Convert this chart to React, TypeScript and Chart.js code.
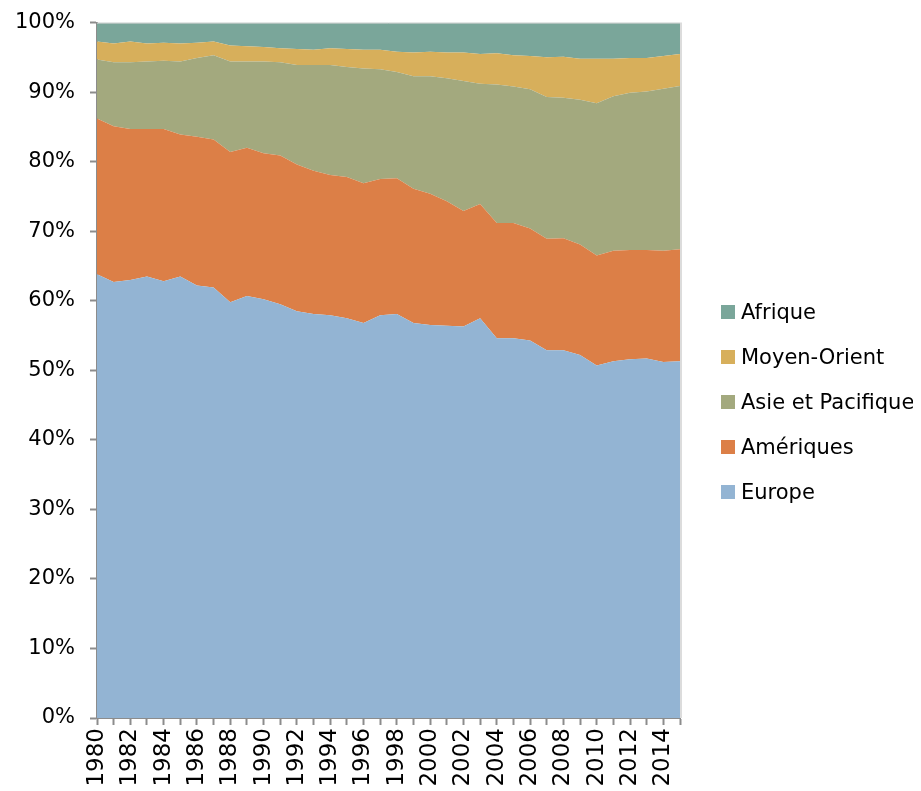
import React, { useEffect, useRef } from "react";
import { Chart, registerables } from "chart.js";

Chart.register(...registerables);

const years: string[] = [
  "1980","1981","1982","1983","1984","1985","1986","1987","1988","1989",
  "1990","1991","1992","1993","1994","1995","1996","1997","1998","1999",
  "2000","2001","2002","2003","2004","2005","2006","2007","2008","2009",
  "2010","2011","2012","2013","2014","2015",
];

const europe: number[] = [
  63.8, 62.7, 63.0, 63.5, 62.8, 63.5, 62.2, 61.9, 59.8, 60.7,
  60.2, 59.5, 58.5, 58.1, 57.9, 57.5, 56.8, 57.9, 58.1, 56.8,
  56.5, 56.4, 56.3, 57.5, 54.6, 54.6, 54.3, 52.9, 52.9, 52.2,
  50.7, 51.3, 51.6, 51.7, 51.2, 51.3,
];
const ameriques: number[] = [
  22.4, 22.4, 21.7, 21.2, 21.9, 20.4, 21.4, 21.3, 21.6, 21.3,
  21.0, 21.4, 21.1, 20.6, 20.2, 20.3, 20.1, 19.6, 19.5, 19.3,
  18.9, 17.9, 16.6, 16.4, 16.6, 16.6, 16.1, 16.0, 16.1, 15.9,
  15.8, 15.9, 15.7, 15.6, 16.0, 16.1,
];
const asiePacifique: number[] = [
  8.5, 9.2, 9.6, 9.7, 9.8, 10.5, 11.3, 12.1, 13.0, 12.4,
  13.2, 13.4, 14.3, 15.2, 15.8, 15.8, 16.5, 15.8, 15.3, 16.2,
  16.9, 17.7, 18.7, 17.3, 19.9, 19.6, 20.0, 20.4, 20.2, 20.8,
  21.9, 22.2, 22.6, 22.8, 23.3, 23.5,
];
const moyenOrient: number[] = [
  2.6, 2.7, 3.0, 2.6, 2.6, 2.6, 2.2, 2.0, 2.3, 2.2,
  2.1, 2.0, 2.3, 2.2, 2.4, 2.6, 2.7, 2.8, 2.9, 3.4,
  3.5, 3.7, 4.1, 4.3, 4.5, 4.5, 4.8, 5.7, 5.9, 5.9,
  6.4, 5.4, 5.0, 4.8, 4.7, 4.6,
];
const afrique: number[] = [
  2.7, 3.0, 2.7, 3.0, 2.9, 3.0, 2.9, 2.7, 3.3, 3.4,
  3.5, 3.7, 3.8, 3.9, 3.7, 3.8, 3.9, 3.9, 4.2, 4.3,
  4.2, 4.3, 4.3, 4.5, 4.4, 4.7, 4.8, 5.0, 4.9, 5.2,
  5.2, 5.2, 5.1, 5.1, 4.8, 4.5,
];

const yTickValues: number[] = [0, 10, 20, 30, 40, 50, 60, 70, 80, 90, 100];

const seriesNames: string[] = ["Europe", "Amériques", "Asie et Pacifique", "Moyen-Orient", "Afrique"];
const seriesColors: string[] = ["#93B4D3", "#DC7F47", "#A3A97E", "#D7AF5B", "#7AA69A"];
const seriesData: number[][] = [europe, ameriques, asiePacifique, moyenOrient, afrique];

const topBorder = {
  id: "topBorder",
  afterDraw(chart: any) {
    const { ctx, chartArea } = chart;
    ctx.save();
    ctx.strokeStyle = "#d4d4d4";
    ctx.lineWidth = 1;
    ctx.beginPath();
    ctx.moveTo(chartArea.left, chartArea.top + 0.5);
    ctx.lineTo(chartArea.right, chartArea.top + 0.5);
    ctx.stroke();
    ctx.strokeStyle = "#dcdcdc";
    ctx.lineWidth = 2;
    ctx.beginPath();
    ctx.moveTo(chartArea.right + 1, chartArea.top);
    ctx.lineTo(chartArea.right + 1, chartArea.bottom);
    ctx.stroke();
    ctx.restore();
  },
};

export default function App() {
  const ref = useRef<HTMLCanvasElement | null>(null);

  useEffect(() => {
    if (!ref.current) return;
    const chart = new Chart(ref.current, {
      type: "line",
      data: {
        labels: years,
        datasets: seriesData.map((d, i) => ({
          label: seriesNames[i],
          data: d,
          backgroundColor: seriesColors[i],
          borderColor: seriesColors[i],
          borderWidth: 0,
          pointRadius: 0,
          fill: i === 0 ? "origin" : "-1",
          tension: 0,
        })),
      },
      options: {
        animation: false,
        responsive: false,
        layout: { padding: { left: 0, right: 233, top: 1, bottom: 0 } },
        plugins: {
          legend: { display: false },
          tooltip: { enabled: false },
        },
        scales: {
          x: {
            offset: false,
            afterFit: (axis: any) => {
              axis.height = 73;
            },
            grid: {
              drawOnChartArea: false,
              drawTicks: true,
              tickLength: 7,
              tickColor: "#8c8c8c",
              tickWidth: 2,
            },
            border: { display: true, color: "#8c8c8c", width: 2 },
            ticks: {
              autoSkip: false,
              maxRotation: 90,
              minRotation: 90,
              padding: 3,
              color: "#000",
              font: { family: "'DejaVu Sans'", size: 23 },
              callback: (_v: any, idx: number) => (idx % 2 === 0 ? years[idx] : ""),
            },
          },
          y: {
            stacked: true,
            min: 0,
            max: 100,
            afterFit: (axis: any) => {
              axis.width = 89;
            },
            afterBuildTicks: (axis: any) => {
              axis.ticks = yTickValues.map((v) => ({ value: v }));
            },
            grid: {
              drawOnChartArea: false,
              drawTicks: true,
              tickLength: 7,
              tickColor: "#8c8c8c",
              tickWidth: 2,
            },
            border: { display: true, color: "#8c8c8c", width: 2 },
            ticks: {
              padding: 15,
              color: "#000",
              font: { family: "'DejaVu Sans'", size: 21 },
              callback: (v: any) => v + "%",
            },
          },
        },
      },
      plugins: [topBorder],
    });
    return () => chart.destroy();
  }, []);

  const legendOrder = [4, 3, 2, 1, 0];

  return (
    <div style={{ position: "relative", width: 905, height: 783 }}>
      <canvas ref={ref} width={905} height={796} style={{ display: "block", position: "relative", top: -13 }} />
      <div style={{ position: "absolute", left: 713, top: 281, fontFamily: "'DejaVu Sans'", fontSize: 21, color: "#000" }}>
        {legendOrder.map((i) => (
          <div key={i} style={{ display: "flex", alignItems: "center", height: 45, whiteSpace: "nowrap" }}>
            <span style={{ display: "inline-block", width: 14, height: 14, background: seriesColors[i], marginRight: 6 }} />
            <span>{seriesNames[i]}</span>
          </div>
        ))}
      </div>
    </div>
  );
}
